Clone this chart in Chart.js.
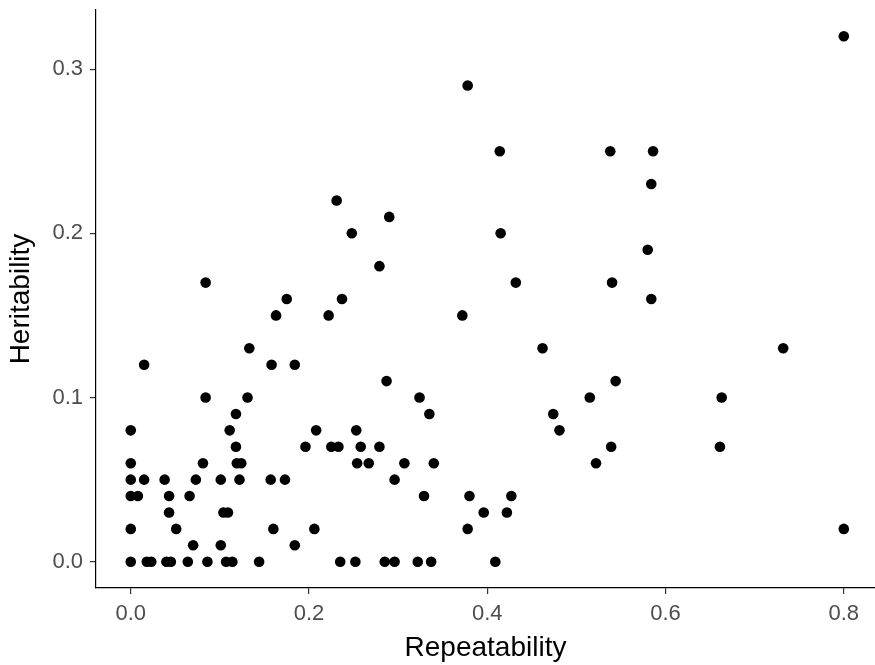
<!DOCTYPE html>
<html>
<head>
<meta charset="utf-8">
<script src="https://cdn.jsdelivr.net/npm/chart.js@4/dist/chart.umd.min.js"></script>
<style>
  html, body { margin: 0; padding: 0; background: #fff; }
  #wrap { width: 875px; height: 665px; }
</style>
</head>
<body>
<div id="wrap"><canvas id="scatter" width="875" height="665"></canvas></div>
<script>
// paired values, one entry per trait
const repeatability = [
  0.800,
  0.378,
  0.414, 0.538, 0.586,
  0.584,
  0.231,
  0.290,
  0.248, 0.415,
  0.580,
  0.279,
  0.084, 0.432, 0.540,
  0.175, 0.237, 0.584,
  0.163, 0.222, 0.372,
  0.133, 0.462, 0.732,
  0.015, 0.158, 0.184,
  0.287, 0.544,
  0.084, 0.131, 0.324, 0.515, 0.663,
  0.118, 0.335, 0.474,
  0.000, 0.111, 0.208, 0.253, 0.481,
  0.118, 0.196, 0.225, 0.233, 0.258, 0.279, 0.539, 0.661,
  0.000, 0.081, 0.119, 0.124, 0.254, 0.267, 0.307, 0.340, 0.522,
  0.000, 0.015, 0.038, 0.073, 0.101, 0.122, 0.157, 0.173, 0.296,
  0.000, 0.008, 0.043, 0.066, 0.329, 0.380, 0.427,
  0.043, 0.104, 0.109, 0.396, 0.422,
  0.000, 0.051, 0.160, 0.206, 0.378, 0.800,
  0.070, 0.101, 0.184,
  0.000, 0.018, 0.023, 0.040, 0.045, 0.064, 0.086, 0.107, 0.114, 0.144,
  0.235, 0.252, 0.285, 0.296, 0.322, 0.337, 0.409
];
const heritability = [
  0.32,
  0.29,
  0.25, 0.25, 0.25,
  0.23,
  0.22,
  0.21,
  0.20, 0.20,
  0.19,
  0.18,
  0.17, 0.17, 0.17,
  0.16, 0.16, 0.16,
  0.15, 0.15, 0.15,
  0.13, 0.13, 0.13,
  0.12, 0.12, 0.12,
  0.11, 0.11,
  0.10, 0.10, 0.10, 0.10, 0.10,
  0.09, 0.09, 0.09,
  0.08, 0.08, 0.08, 0.08, 0.08,
  0.07, 0.07, 0.07, 0.07, 0.07, 0.07, 0.07, 0.07,
  0.06, 0.06, 0.06, 0.06, 0.06, 0.06, 0.06, 0.06, 0.06,
  0.05, 0.05, 0.05, 0.05, 0.05, 0.05, 0.05, 0.05, 0.05,
  0.04, 0.04, 0.04, 0.04, 0.04, 0.04, 0.04,
  0.03, 0.03, 0.03, 0.03, 0.03,
  0.02, 0.02, 0.02, 0.02, 0.02, 0.02,
  0.01, 0.01, 0.01,
  0.00, 0.00, 0.00, 0.00, 0.00, 0.00, 0.00, 0.00, 0.00, 0.00,
  0.00, 0.00, 0.00, 0.00, 0.00, 0.00, 0.00
];
const xTicks = [0, 0.2, 0.4, 0.6, 0.8];
const yTicks = [0, 0.1, 0.2, 0.3];

const points = repeatability.map((r, i) => ({ x: r, y: heritability[i] }));

const tickFont = { family: "'Liberation Sans', Arial, sans-serif", size: 22 };
const titleFont = { family: "'Liberation Sans', Arial, sans-serif", size: 28 };

function fixedTicks(values) {
  return scale => { scale.ticks = values.map(v => ({ value: v })); };
}

// keep the panel edges where the axis limits put them, no room for label overhang
function fixX(scale) {
  scale.height = 77;
  scale.paddingLeft = 0;
  scale.paddingRight = 0;
}
function fixY(scale) {
  scale.width = 96;
  scale.paddingTop = 0;
  scale.paddingBottom = 0;
}

new Chart(document.getElementById("scatter"), {
  type: "scatter",
  data: {
    datasets: [{
      data: points,
      backgroundColor: "#000",
      borderWidth: 0,
      pointRadius: 5.3,
      pointHoverRadius: 5.3,
      clip: false
    }]
  },
  options: {
    responsive: false,
    animation: false,
    layout: { autoPadding: false, padding: { top: 10, right: 0, left: 0, bottom: 0 } },
    plugins: { legend: { display: false }, tooltip: { enabled: false } },
    scales: {
      x: {
        type: "linear",
        min: -0.039,
        max: 0.835,
        afterBuildTicks: fixedTicks(xTicks),
        afterFit: fixX,
        border: { display: true, color: "#000", width: 1.2 },
        grid: { display: true, drawOnChartArea: false, drawTicks: true, tickLength: 6, color: "#333", lineWidth: 1.2 },
        ticks: { color: "#4d4d4d", font: tickFont, padding: 7, callback: v => Number(v).toFixed(1) },
        title: { display: true, text: "Repeatability", color: "#000", font: titleFont, padding: { top: 0, bottom: 0 } }
      },
      y: {
        type: "linear",
        min: -0.016,
        max: 0.336,
        afterBuildTicks: fixedTicks(yTicks),
        afterFit: fixY,
        border: { display: true, color: "#000", width: 1.2 },
        grid: { display: true, drawOnChartArea: false, drawTicks: true, tickLength: 6, color: "#333", lineWidth: 1.2 },
        ticks: { color: "#4d4d4d", font: tickFont, padding: 7, callback: v => Number(v).toFixed(1) },
        title: { display: true, text: "Heritability", color: "#000", font: titleFont, padding: { top: 4, bottom: 0 } }
      }
    }
  }
});
</script>
</body>
</html>
